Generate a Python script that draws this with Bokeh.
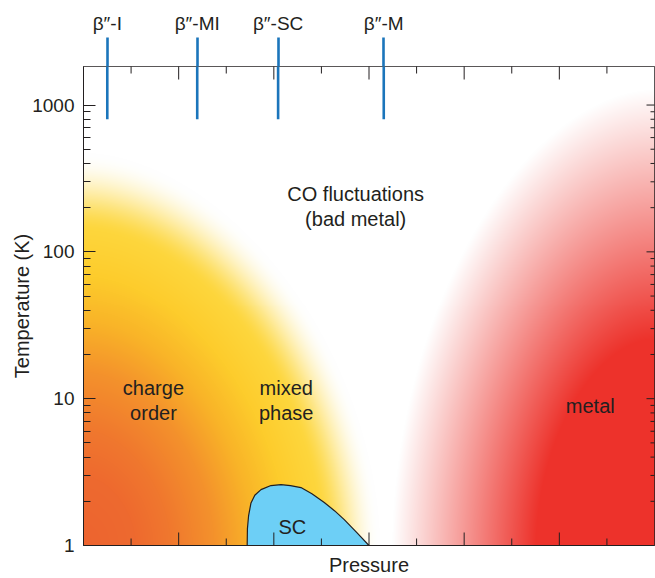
import numpy as np
from bokeh.plotting import figure
from bokeh.models import Range1d, LinearAxis, FixedTicker, Label, BasicTickFormatter
from bokeh.embed import file_html
from bokeh.resources import INLINE

# ---------------- data ----------------
P_MIN, P_MAX = 0.0, 12.0          # pressure axis (arbitrary units, schematic)
T_MIN, T_MAX = 1.0, 1830.0        # temperature axis (K), log scale

phase_names = ["β″-I", "β″-MI", "β″-SC", "β″-M"]
phase_pressure = [0.5, 2.39, 4.09, 6.31]
phase_marker_T = 800.0            # lower end of the marker lines (K)

sc_pressure = [3.44, 3.445, 3.47, 3.52, 3.60, 3.73, 3.94, 4.15, 4.35, 4.57, 4.80, 5.06, 5.28, 5.48, 5.75, 6.00]
sc_tc       = [1.00, 1.30, 1.60, 1.95, 2.20, 2.40, 2.56, 2.60, 2.56, 2.48, 2.25, 1.96, 1.72, 1.50, 1.22, 1.00]

# extents of the shaded regions (pressure units, decades of T)
co_extent_P, co_extent_logT = 6.1, 2.62        # charge order / mixed phase dome
metal_extent_P, metal_extent_logT = 5.5, 3.1   # metal region measured from the right edge

x_major_ticks = [2, 4, 6, 8, 10]
x_minor_ticks = [1, 3, 5, 7, 9, 11]
y_major_ticks = [1, 10, 100, 1000]
y_minor_ticks = [2, 3, 4, 5, 6, 7, 8, 9, 20, 30, 40, 50, 60, 70, 80, 90,
                 200, 300, 400, 500, 600, 700, 800, 900]

# ---------------- style ----------------
INK = "#231F20"
BLUE = "#1B75BB"
SC_FILL = "#6DCFF6"
FONT = "Liberation Sans"

# ---------------- shaded background ----------------
NX, NY = 571, 480
log_top = np.log10(T_MAX)
u = (np.arange(NX) + 0.5) / NX * (P_MAX - P_MIN) + P_MIN
v = (np.arange(NY) + 0.5) / NY * log_top
U, V = np.meshgrid(u, v)


def smoothstep(e0, e1, x):
    t = np.clip((x - e0) / (e1 - e0), 0, 1)
    return t * t * (3 - 2 * t)


pl = 1.8
rL = ((U / co_extent_P) ** pl + (V / co_extent_logT) ** pl) ** (1 / pl)
aL = 1 - smoothstep(0.82, 1.02, rL)
stops_r = [0.0, 0.18, 0.30, 0.45, 0.58, 0.70, 0.82, 1.0]
stops_c = np.array([[237, 100, 48], [238, 106, 47], [240, 120, 46], [244, 146, 44],
                    [249, 180, 40], [253, 204, 44], [253, 214, 60], [254, 228, 110]], dtype=float)
colL = np.stack([np.interp(rL, stops_r, stops_c[:, k]) for k in range(3)], axis=-1)
rgb = 255.0 * (1 - aL[..., None]) + colL * aL[..., None]

pr = 1.85
rR = (((P_MAX - U) / metal_extent_P) ** pr + (V / metal_extent_logT) ** pr) ** (1 / pr)
aR = np.clip((1 - rR) / 0.55, 0, 1)
red = np.array([237, 50, 43], dtype=float)
rgb = rgb * (1 - aR[..., None]) + red * aR[..., None]

img = np.empty((NY, NX), dtype=np.uint32)
view = img.view(dtype=np.uint8).reshape((NY, NX, 4))
view[..., :3] = np.clip(rgb, 0, 255).astype(np.uint8)
view[..., 3] = 255

# ---------------- figure ----------------
p = figure(width=655, height=578,
           x_range=Range1d(P_MIN, P_MAX), y_range=Range1d(T_MIN, T_MAX),
           y_axis_type="log", toolbar_location=None, output_backend="svg",
           min_border_left=83, min_border_right=1, min_border_top=66, min_border_bottom=32,
           background_fill_color="white", border_fill_color="white",
           outline_line_color=INK, outline_line_width=1)
p.grid.visible = False

p.image_rgba(image=[img], x=P_MIN, y=T_MIN, dw=P_MAX - P_MIN, dh=T_MAX - T_MIN)
p.patch(sc_pressure, sc_tc, fill_color=SC_FILL, line_color=INK, line_width=1.2)
p.segment(x0=phase_pressure, y0=phase_marker_T, x1=phase_pressure, y1=T_MAX,
          line_color=BLUE, line_width=2.6)

# inward tick marks on bottom, top and right edges (half of each dash is clipped by the frame)
for yy in (T_MIN, T_MAX):
    p.scatter(x=x_major_ticks, y=[yy] * len(x_major_ticks), marker="dash", angle=np.pi / 2,
              size=26, line_color=INK, line_width=1)
    p.scatter(x=x_minor_ticks, y=[yy] * len(x_minor_ticks), marker="dash", angle=np.pi / 2,
              size=14, line_color=INK, line_width=1)
p.scatter(x=[P_MAX] * len(y_major_ticks), y=y_major_ticks, marker="dash",
          size=16, line_color=INK, line_width=1)
p.scatter(x=[P_MAX] * len(y_minor_ticks), y=y_minor_ticks, marker="dash",
          size=8, line_color=INK, line_width=1)

# bottom axis: only the axis title
xa = p.xaxis[0]
xa.ticker = FixedTicker(ticks=[], minor_ticks=[])
xa.axis_line_color = INK
xa.axis_label = "Pressure"
xa.axis_label_text_font = FONT
xa.axis_label_text_font_style = "normal"
xa.axis_label_text_font_size = "20px"
xa.axis_label_text_color = INK
xa.axis_label_text_line_height = 1.0
xa.axis_label_standoff = 8

# left axis
ya = p.yaxis[0]
ya.ticker = FixedTicker(ticks=y_major_ticks, minor_ticks=y_minor_ticks)
ya.formatter = BasicTickFormatter(use_scientific=False)
ya.major_tick_in = 12
ya.major_tick_out = 0
ya.minor_tick_in = 7
ya.minor_tick_out = 0
ya.axis_line_color = INK
ya.major_tick_line_color = INK
ya.minor_tick_line_color = INK
ya.major_label_text_font = FONT
ya.major_label_text_font_size = "19px"
ya.major_label_text_color = INK
ya.major_label_standoff = 9
ya.axis_label = "Temperature (K)"
ya.axis_label_text_font = FONT
ya.axis_label_text_font_style = "normal"
ya.axis_label_text_font_size = "20px"
ya.axis_label_text_color = INK
ya.axis_label_standoff = -4

# top axis: phase markers with labels
ta = LinearAxis(ticker=FixedTicker(ticks=phase_pressure, minor_ticks=[]))
ta.major_label_overrides = dict(zip(phase_pressure, phase_names))
ta.axis_line_color = None
ta.major_tick_line_color = BLUE
ta.major_tick_line_width = 2.6
ta.major_tick_out = 29
ta.major_tick_in = 0
ta.major_label_standoff = 4
ta.major_label_text_font = FONT
ta.major_label_text_font_size = "19px"
ta.major_label_text_color = INK
p.add_layout(ta, "above")

label_specs = [
    ("CO fluctuations", 5.72, 247.0),
    ("(bad metal)", 5.72, 167.0),
    ("charge", 1.47, 11.9),
    ("order", 1.47, 8.0),
    ("mixed", 4.26, 11.9),
    ("phase", 4.26, 8.0),
    ("SC", 4.39, 1.33),
    ("metal", 10.65, 8.95),
]
for txt, lx, ly in label_specs:
    p.add_layout(Label(x=lx, y=ly, text=txt, text_align="center", text_baseline="alphabetic",
                       text_font=FONT, text_font_size="20px", text_color=INK))

open("out.html", "w").write(file_html(p, INLINE))
